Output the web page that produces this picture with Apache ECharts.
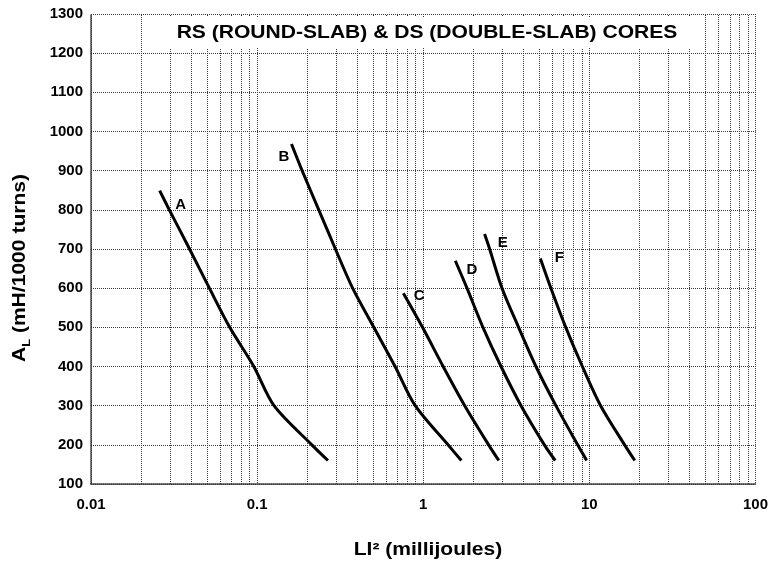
<!DOCTYPE html>
<html>
<head>
<meta charset="utf-8">
<style>
  html, body { margin: 0; padding: 0; background: #fff; }
  #chart { width: 771px; height: 565px; }
</style>
<script src="https://cdn.jsdelivr.net/npm/echarts@6/dist/echarts.min.js"></script>
</head>
<body>
<div id="chart"></div>
<script>
// Core curves: inductance factor A_L versus stored energy LI^2
const curveNames = ['A', 'B', 'C', 'D', 'E', 'F'];

const curveA_x = [0.0259, 0.0296, 0.0392, 0.0516, 0.0684, 0.0955, 0.1264, 0.2135, 0.267];
const curveA_y = [849, 800, 700, 600, 500, 400, 300, 200, 160];

const curveB_x = [0.161, 0.1866, 0.235, 0.296, 0.3758, 0.504, 0.677, 0.895, 1.41, 1.696];
const curveB_y = [968, 900, 800, 700, 600, 500, 400, 300, 200, 160];

const curveC_x = [0.759, 0.99, 1.318, 1.777, 2.475, 2.85];
const curveC_y = [587, 500, 400, 300, 200, 160];

const curveD_x = [1.56, 1.834, 2.288, 2.94, 3.88, 5.36, 6.23];
const curveD_y = [670, 600, 500, 400, 300, 200, 160];

const curveE_x = [2.34, 2.51, 2.98, 3.75, 4.77, 6.29, 8.5, 9.63];
const curveE_y = [738, 700, 600, 500, 400, 300, 200, 160];

const curveF_x = [5.07, 5.87, 7.21, 9.08, 11.69, 16.3, 18.77];
const curveF_y = [676, 600, 500, 400, 300, 200, 160];

// Curve tag positions (data coordinates)
const tagX = [0.0346, 0.145, 0.946, 1.965, 3.01, 6.6];
const tagY = [812, 935, 580, 646, 715, 677];

// Axis ticks
const xTickLabels = ['0.01', '0.1', '1', '10', '100'];
const yMin = 100, yMax = 1300, yStep = 100;
const logDecades = [0.01, 0.1, 1, 10];
const logSubSteps = [2, 3, 4, 5, 6, 7, 8, 9];

const curvesX = [curveA_x, curveB_x, curveC_x, curveD_x, curveE_x, curveF_x];
const curvesY = [curveA_y, curveB_y, curveC_y, curveD_y, curveE_y, curveF_y];

const FONT = '"Liberation Sans", Arial, sans-serif';
const GRID_COLOR = '#3a3a3a';

// intermediate log gridlines (2..9 within each decade)
const minorLines = [];
logDecades.forEach(d => logSubSteps.forEach(m => minorLines.push({ xAxis: +(d * m).toPrecision(6) })));

const series = curveNames.map((name, i) => ({
  name: name,
  type: 'line',
  data: curvesX[i].map((x, k) => [x, curvesY[i][k]]),
  showSymbol: false,
  symbol: 'none',
  smooth: 0.3,
  lineStyle: { color: '#000', width: 3, cap: 'butt', join: 'round' },
  emphasis: { disabled: true },
  silent: true,
  z: 5
}));

series.push({
  name: 'grid-minor',
  type: 'line',
  data: [],
  silent: true,
  markLine: {
    silent: true,
    symbol: ['none', 'none'],
    label: { show: false },
    animation: false,
    lineStyle: { type: [1, 1], color: GRID_COLOR, width: 1 },
    emphasis: { disabled: true },
    data: minorLines
  },
  z: 1
});

series.push({
  name: 'tags',
  type: 'scatter',
  symbolSize: 0,
  silent: true,
  itemStyle: { opacity: 1 },
  data: curveNames.map((n, i) => ({ value: [tagX[i], tagY[i]], name: n })),
  label: {
    show: true,
    position: 'inside',
    formatter: p => p.name,
    color: '#000',
    opacity: 1,
    fontFamily: FONT,
    fontWeight: 'bold',
    fontSize: 15
  },
  z: 6
});

const chart = echarts.init(document.getElementById('chart'), null, { renderer: 'canvas' });

chart.setOption({
  animation: false,
  backgroundColor: '#fff',
  grid: { left: 91, right: 12, top: 14, bottom: 81, containLabel: false },
  xAxis: {
    type: 'log',
    logBase: 10,
    min: 0.01,
    max: 100,
    axisLine: { show: true, lineStyle: { type: [1, 1], color: GRID_COLOR, width: 1.5 } },
    axisTick: { show: false },
    splitLine: { show: true, lineStyle: { type: [1, 1], color: GRID_COLOR, width: 1 } },
    axisLabel: {
      margin: 13,
      color: '#000',
      fontFamily: FONT,
      fontWeight: 'bold',
      fontSize: 15,
      formatter: (v, idx) => xTickLabels[idx] !== undefined ? xTickLabels[idx] : String(v)
    }
  },
  yAxis: {
    type: 'value',
    min: yMin,
    max: yMax,
    interval: yStep,
    axisLine: { show: true, lineStyle: { type: [1, 1], color: GRID_COLOR, width: 1.5 } },
    axisTick: { show: false },
    splitLine: { show: true, lineStyle: { type: [1, 1], color: GRID_COLOR, width: 1 } },
    axisLabel: {
      margin: 8,
      color: '#000',
      fontFamily: FONT,
      fontWeight: 'bold',
      fontSize: 15,
      formatter: v => String(v)
    }
  },
  graphic: [
    {
      type: 'rect',
      shape: { x: 160, y: 17, width: 532, height: 31 },
      style: { fill: '#fff' },
      z: 50,
      silent: true
    },
    {
      type: 'text',
      x: 427, y: 33,
      scaleX: 1.17,
      z: 51,
      silent: true,
      style: {
        text: 'RS (ROUND-SLAB) & DS (DOUBLE-SLAB) CORES',
        font: 'bold 18px ' + FONT,
        fill: '#000',
        align: 'center',
        verticalAlign: 'middle'
      }
    },
    {
      type: 'text',
      x: 428, y: 550,
      scaleX: 1.17,
      z: 51,
      silent: true,
      style: {
        text: 'LI\u00B2 (millijoules)',
        font: 'bold 18px ' + FONT,
        fill: '#000',
        align: 'center',
        verticalAlign: 'middle'
      }
    },
    {
      type: 'text',
      x: 20, y: 268,
      rotation: Math.PI / 2,
      scaleX: 1.17,
      z: 51,
      silent: true,
      style: {
        text: '{a|A}{s|L}{a| (mH/1000 turns)}',
        align: 'center',
        verticalAlign: 'middle',
        fill: '#000',
        rich: {
          a: { fontFamily: FONT, fontWeight: 'bold', fontSize: 18, lineHeight: 24, verticalAlign: 'middle' },
          s: { fontFamily: FONT, fontWeight: 'bold', fontSize: 11, lineHeight: 11, verticalAlign: 'bottom' }
        }
      }
    }
  ],
  series: series
});
</script>
</body>
</html>
